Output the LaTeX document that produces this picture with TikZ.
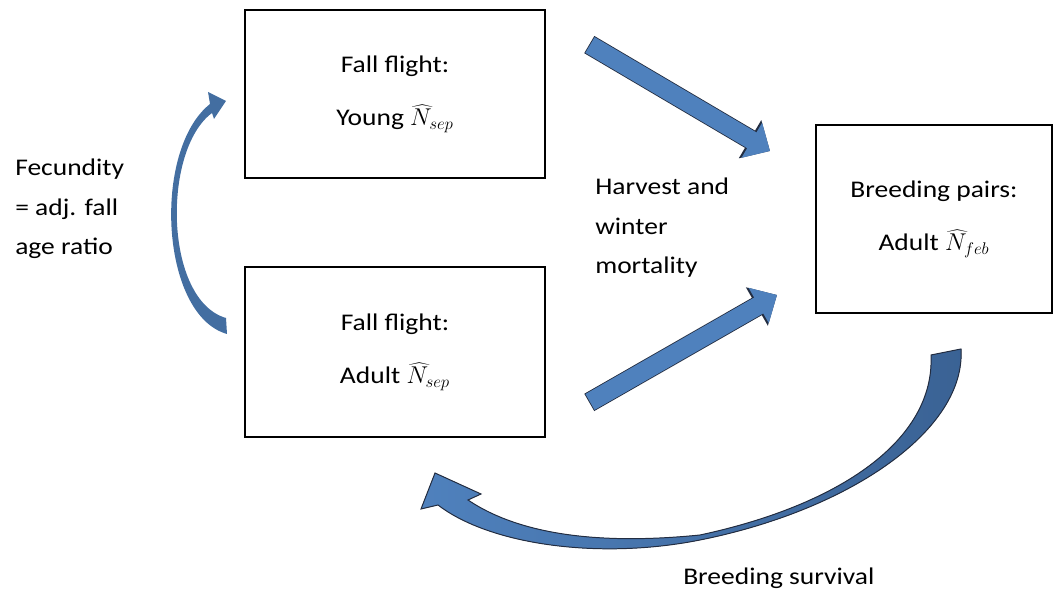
\documentclass[tikz,border=0pt]{standalone}
\usepackage{fontspec}
\setmainfont[FakeStretch=1.15]{Carlito}
\usetikzlibrary{arrows.meta}

\definecolor{arrowblue}{RGB}{79,129,189}
\definecolor{arrowdark}{RGB}{58,98,148}
\definecolor{arrowedge}{RGB}{35,45,65}

\begin{document}
\begin{tikzpicture}[
    x=0.025cm, y=-0.025cm,
    box/.style={rectangle, draw=black, line width=0.9pt, fill=white, minimum width=7.5cm, minimum height=4.2cm, align=center, font=\fontsize{17}{38}\selectfont},
    lbl/.style={align=left, inner sep=0pt, font=\fontsize{17}{28}\selectfont},
    blockarrow/.style={line width=13pt, draw=arrowblue, -{Triangle[length=15pt, width=28pt]},
        preaction={draw=arrowedge, line width=14.2pt, shorten <=-0.6pt, -{Triangle[length=16.5pt, width=30.5pt]}}},
    curvebig/.style={draw=arrowedge, line width=0.7pt, left color=arrowblue, right color=arrowdark},
    curvesmall/.style={fill=arrowblue!85!black}
]
\useasboundingbox (0,0) rectangle (1055,596);

% Boxes
\node (young) [box] at (395,94) {Fall flight:\\Young $\widehat{N}_{sep}$};
\node (adult) [box, minimum height=4.25cm] at (395,352) {Fall flight:\\Adult $\widehat{N}_{sep}$};
\node (pairs) [box, minimum width=5.9cm, minimum height=4.7cm] at (934,219) {Breeding pairs:\\Adult $\widehat{N}_{feb}$};

% Labels
\node (fecund) [lbl, anchor=west] at (15,209) {Fecundity\\= adj. fall\\age ratio};
\node (harvest) [lbl, anchor=west] at (595,228) {Harvest and\\winter\\mortality};
\node (survival) [lbl, anchor=west] at (683,578) {Breeding survival};

% Straight block arrows
\coordinate (youngtail) at (590,45);
\coordinate (younghead) at (770,151);
\coordinate (adulttail) at (590,402);
\coordinate (adulthead) at (777,295);
\draw[blockarrow] (youngtail) -- (younghead);
\draw[blockarrow] (adulttail) -- (adulthead);

% Curved arrow: fecundity
\fill[curvesmall] (227,334) .. controls (160,315) and (152,150) .. (210,104)
  -- (208,92) -- (226,101) -- (214,119) -- (212,113)
  .. controls (162,150) and (164,300) .. (226,318) -- cycle;

% Curved arrow: breeding survival
\filldraw[curvebig] (961,349) .. controls (966,430) and (850,510) .. (700,540)
  .. controls (600,560) and (490,545) .. (438,505)
  -- (421,509) -- (435,473) -- (481,494) -- (468,500)
  .. controls (520,535) and (600,545) .. (700,535)
  .. controls (840,505) and (935,440) .. (931,355) -- cycle;

\end{tikzpicture}
\end{document}
